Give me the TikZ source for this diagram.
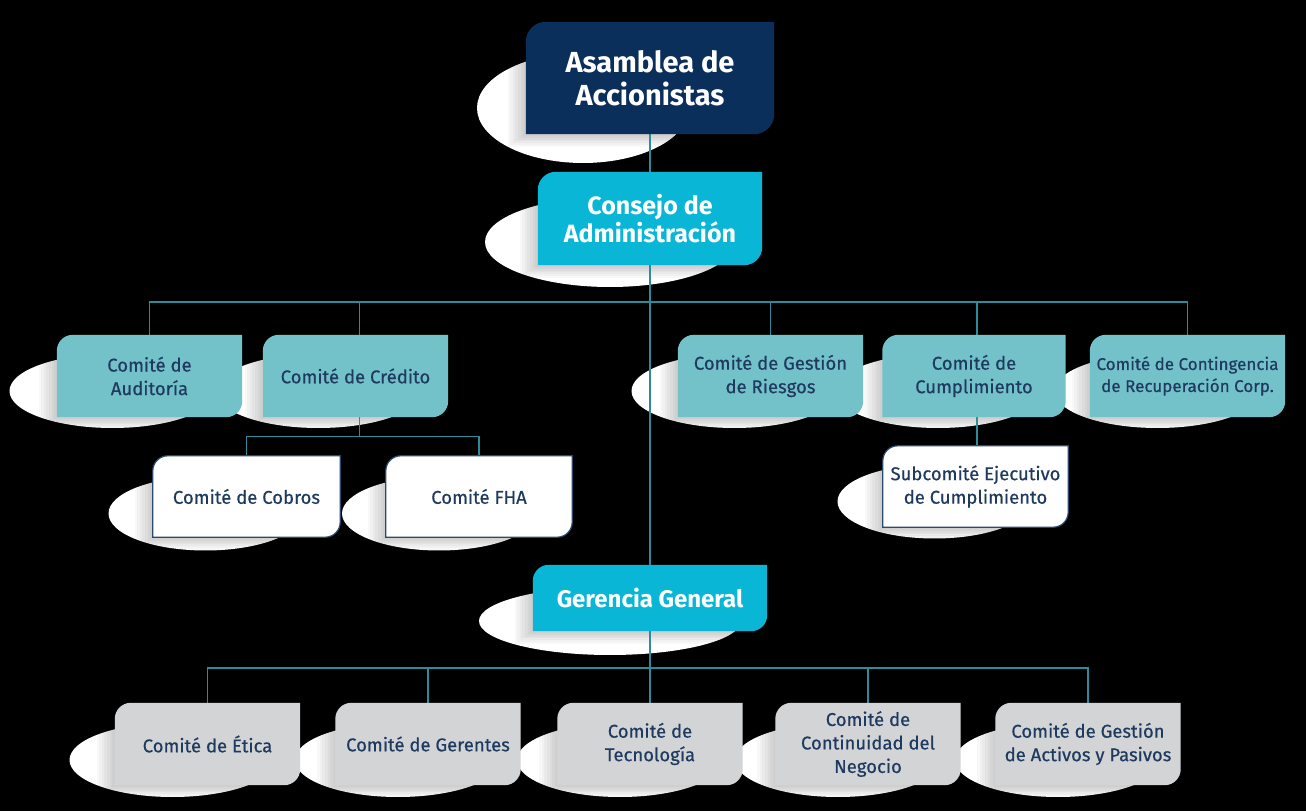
\documentclass[tikz,border=0pt]{standalone}
\usepackage{fontspec}
\setmainfont{Fira Sans}
\newfontfamily\medf[FakeBold=0.5]{Fira Sans}
\pgfdeclarelayer{bgl}\pgfdeclarelayer{ell}\pgfdeclarelayer{lin}\pgfdeclarelayer{bx}
\pgfsetlayers{bgl,ell,lin,bx,main}
\definecolor{navy}{HTML}{0B2F5B}
\definecolor{cyanb}{HTML}{0AB6D6}
\definecolor{tealb}{HTML}{73C2CA}
\definecolor{grayb}{HTML}{D3D4D6}
\definecolor{txt}{HTML}{1F3A5F}
\definecolor{wire}{HTML}{2E8B9A}
\definecolor{bord}{HTML}{2C4A6B}
\newcommand\shapeit[8]{%
 \begin{pgfonlayer}{bx}
 \path[fill=#2,draw=#3,line width=1.2pt] (#1.south west) -- ([yshift=-#4pt]#1.north west) arc[start angle=180,end angle=90,radius=#4pt] -- (#1.north east) -- ([yshift=#4pt]#1.south east) arc[start angle=0,end angle=-90,radius=#4pt] -- cycle;
 \end{pgfonlayer}
 \begin{pgfonlayer}{ell}
 \fill[white] ([xshift=#5pt,yshift=#6pt]#1.center) ellipse[x radius=#7pt,y radius=#8pt];
 \begin{scope}
 \clip ([xshift=#5pt,yshift=#6pt]#1.center) ellipse[x radius=#7pt,y radius=#8pt];
 \foreach \k in {1,...,7} {\fill[black,opacity=0.028] ([xshift=-\k*2.6pt,yshift=-\k*1.8pt]#1.south west) rectangle ([xshift=\k*1pt]#1.north east);}
 \end{scope}
 \end{pgfonlayer}}
\tikzset{
 tx/.style={inner sep=0pt,align=center,minimum width=185pt,minimum height=82pt,text=txt,font=\fontsize{18.5}{23.5}\medf},
 big/.style={inner sep=0pt,align=center,text=white,font=\fontsize{25}{24}\selectfont\bfseries},
 wires/.style={draw=wire,line width=1.3pt}
}
\begin{document}
\begin{tikzpicture}[x=1pt,y=1pt]
\begin{pgfonlayer}{bgl}
\fill[black] (0,0) rectangle (1306,811);
\end{pgfonlayer}
\useasboundingbox (0,0) rectangle (1306,811);
% top
\node[big,minimum width=248pt,minimum height=112pt,font=\fontsize{29}{33}\selectfont\bfseries] (asam) at (650,733) {Asamblea de\\Accionistas};
\node[big,minimum width=224pt,minimum height=93pt] (cons) at (650,592.5) {Consejo de\\Administración};
\node[big,minimum width=234pt,minimum height=66pt,font=\fontsize{24}{25}\selectfont\bfseries] (ger) at (650,213) {Gerencia General};
% row 2
\node[tx] (aud) at (149.5,435) {Comité de\\Auditoría};
\node[tx] (cred) at (355.5,435) {Comité de Crédito};
\node[tx] (ries) at (770.5,435) {Comité de Gestión\\de Riesgos};
\node[tx,minimum width=183pt] (cump) at (974,435) {Comité de\\Cumplimiento};
\node[tx,minimum width=195pt,font=\fontsize{17}{22}\medf] (cont) at (1187.5,435) {Comité de Contingencia\\de Recuperación Corp.};
% row 3
\node[tx,minimum width=187pt,minimum height=81pt] (cob) at (246.5,314.5) {Comité de Cobros};
\node[tx,minimum width=186pt,minimum height=81pt] (fha) at (479,314.5) {Comité FHA};
\node[tx,minimum height=81pt] (sub) at (975.5,324.5) {Subcomité Ejecutivo\\de Cumplimiento};
% bottom row
\node[tx] (eti) at (207.5,67) {Comité de Ética};
\node[tx] (gere) at (428,67) {Comité de Gerentes};
\node[tx] (tec) at (650,67) {Comité de\\Tecnología};
\node[tx] (cont2) at (868,67) {Comité de\\Continuidad del\\Negocio};
\node[tx] (act) at (1088,67) {Comité de Gestión\\de Activos y Pasivos};
% shapes
\shapeit{asam}{navy}{none}{20}{-67}{-30}{106}{55}
\shapeit{cons}{cyanb}{none}{18}{-40}{-23.5}{125}{45}
\shapeit{ger}{cyanb}{none}{16}{-40}{-23}{131}{34}
\shapeit{aud}{tealb}{none}{16}{-37}{-15}{103}{37}
\shapeit{cred}{tealb}{none}{16}{-37}{-15}{103}{37}
\shapeit{ries}{tealb}{none}{16}{-36}{-15}{103}{37}
\shapeit{cump}{tealb}{none}{16}{-36}{-15}{103}{37}
\shapeit{cont}{tealb}{none}{16}{-30}{-15}{103}{37}
\shapeit{cob}{white}{bord}{15}{-41}{-17}{97}{37}
\shapeit{fha}{white}{bord}{15}{-40}{-17}{97}{37}
\shapeit{sub}{white}{bord}{15}{-41}{-15}{97}{37}
\shapeit{eti}{grayb}{none}{16}{-35}{-16}{103}{37}
\shapeit{gere}{grayb}{none}{16}{-30}{-16}{103}{37}
\shapeit{tec}{grayb}{none}{16}{-30}{-16}{103}{37}
\shapeit{cont2}{grayb}{none}{16}{-30}{-16}{103}{37}
\shapeit{act}{grayb}{none}{16}{-30}{-16}{103}{37}
% connectors
\begin{pgfonlayer}{lin}
\coordinate (b1) at (650,509);
\coordinate (b3) at (650,143);
\draw[wires] (asam.south) -- (tec.north);
\draw[wires] (b1) -| (aud.north);
\draw[wires] (b1) -| ([xshift=4pt]cred.north) -- ([xshift=4pt]cred.south) coordinate (b2top);
\draw[wires] (b1) -| (ries.north);
\draw[wires] (b1) -| ([xshift=3pt]cump.north);
\draw[wires] (b1) -| (cont.north);
\draw[wires] (b2top) -- ++(0,-19) coordinate (b2);
\draw[wires] (b2) -| (cob.north);
\draw[wires] (b2) -| (fha.north);
\draw[wires] ([xshift=3pt]cump.south) -- ([xshift=1.5pt]sub.north);
\draw[wires] (b3) -| (eti.north);
\draw[wires] (b3) -| (gere.north);
\draw[wires] (b3) -| (cont2.north);
\draw[wires] (b3) -| (act.north);
\end{pgfonlayer}
\end{tikzpicture}
\end{document}
